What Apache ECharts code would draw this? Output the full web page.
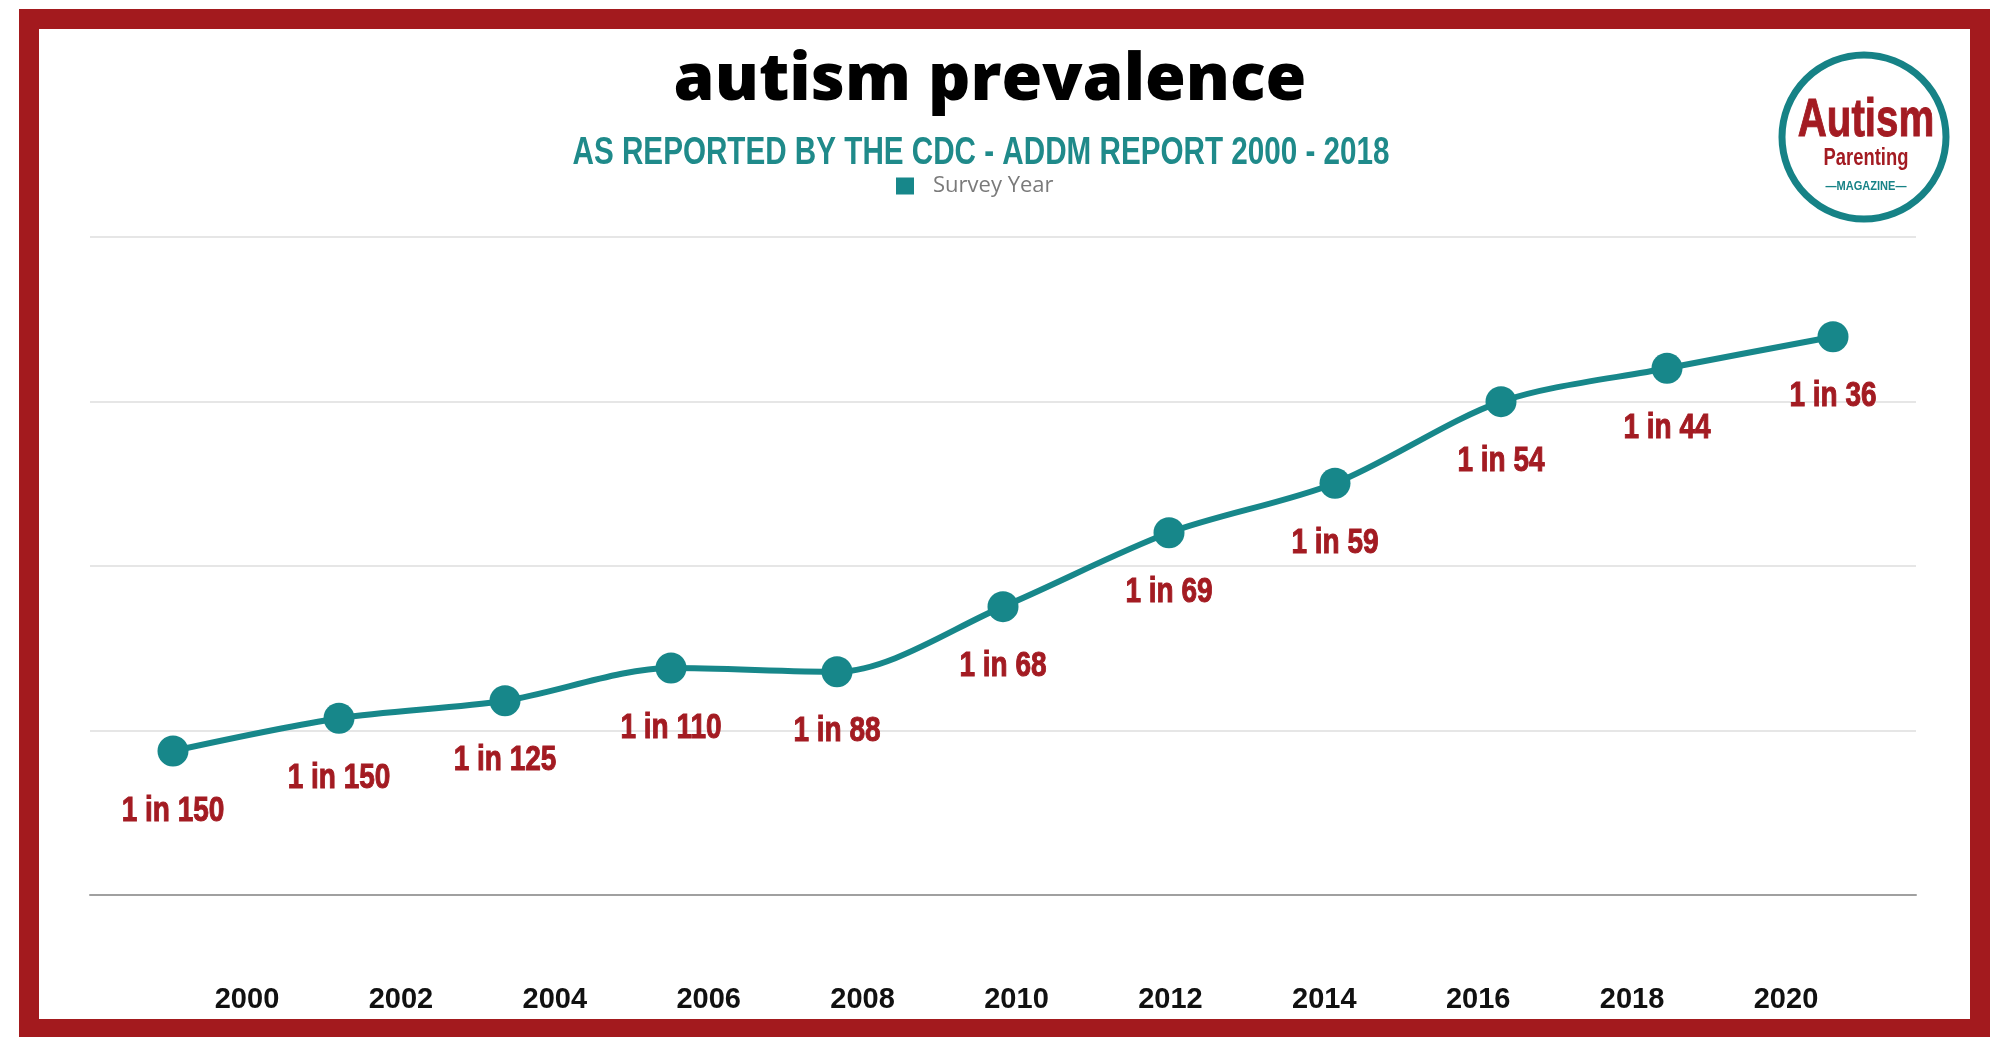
<!DOCTYPE html>
<html>
<head>
<meta charset="utf-8">
<script src="https://cdn.jsdelivr.net/npm/echarts@6/dist/echarts.min.js"></script>
<style>
html,body{margin:0;padding:0;background:#ffffff;}
#chart{width:1997px;height:1037px;}
</style>
</head>
<body>
<div id="chart"></div>
<script>
// ---- data ----
const years = ['2000','2002','2004','2006','2008','2010','2012','2014','2016','2018','2020'];
const prevalenceLevel = [8.75, 10.74, 11.81, 13.80, 13.57, 17.53, 22.02, 25.03, 29.99, 32.02, 33.94];
const prevalenceLabels = ['1 in 150','1 in 150','1 in 125','1 in 110','1 in 88','1 in 68','1 in 69','1 in 59','1 in 54','1 in 44','1 in 36'];
const yearTickLabels = ['2000','2002','2004','2006','2008','2010','2012','2014','2016','2018','2020'];
const seriesName = 'Survey Year';
const titleText = 'autism prevalence';
const subtitleText = 'AS REPORTED BY THE CDC - ADDM REPORT 2000 - 2018';

// ---- styles ----
const TEAL = '#17878a';
const RED = '#a31b22';
const FRAME_RED = '#a31a1e';
const CONDENSED = 'Liberation Sans';

const chart = echarts.init(document.getElementById('chart'), null, {renderer:'canvas'});
const option = {
  backgroundColor: '#ffffff',
  animation: false,
  legend: {
    data: [seriesName],
    left: 896,
    top: 175,
    padding: 0,
    icon: 'rect',
    itemWidth: 18,
    itemHeight: 17,
    textStyle: {fontFamily: 'Open Sans', fontSize: 22, color: '#7a7a7a', padding: [0,0,0,14]}
  },
  grid: [
    {left: 90, right: 81, top: 237, bottom: 142},
    {left: 247, right: 211, top: 237, bottom: 142}
  ],
  xAxis: [
    {
      type: 'category', gridIndex: 0, data: years, boundaryGap: true,
      axisLine: {show: true, onZero: true, lineStyle: {color: '#a0a0a0', width: 2}},
      axisTick: {show: false}, axisLabel: {show: false}, splitLine: {show: false}
    },
    {
      type: 'category', gridIndex: 1, data: yearTickLabels, boundaryGap: false,
      axisLine: {show: false}, axisTick: {show: false}, splitLine: {show: false},
      axisLabel: {show: true, margin: 90, fontFamily: 'Liberation Sans', fontWeight: 'bold', fontSize: 29, color: '#111111', interval: 0}
    }
  ],
  yAxis: [
    {
      type: 'value', gridIndex: 0, min: 0, max: 40, interval: 10,
      axisLine: {show: false}, axisTick: {show: false}, axisLabel: {show: false},
      splitLine: {show: true, lineStyle: {color: '#dedede', width: 1.5}}
    },
    {
      type: 'value', gridIndex: 1, min: 0, max: 40, interval: 10, show: false,
      splitLine: {show: false}
    }
  ],
  series: [
    {
      name: seriesName,
      type: 'line',
      xAxisIndex: 0, yAxisIndex: 0,
      data: prevalenceLevel,
      smooth: 0.3,
      symbol: 'circle',
      symbolSize: 31,
      lineStyle: {color: TEAL, width: 6},
      itemStyle: {color: TEAL},
      label: {show: false},
      z: 5
    },
    {
      name: 'labels',
      type: 'custom',
      xAxisIndex: 0, yAxisIndex: 0,
      data: prevalenceLevel.map((v, i) => [i, v]),
      z: 6,
      silent: true,
      renderItem: function (params, api) {
        const pt = api.coord([api.value(0), api.value(1)]);
        return {
          type: 'text',
          x: pt[0], y: pt[1] + 60,
          scaleX: 0.8,
          style: {
            text: prevalenceLabels[params.dataIndex],
            x: 0, y: 0,
            fontFamily: CONDENSED, fontWeight: 'bold', fontSize: 35,
            fill: RED, stroke: RED, lineWidth: 1,
            align: 'center', verticalAlign: 'middle'
          }
        };
      }
    }
  ],
  graphic: [
    {
      type: 'text', x: 990, y: 81, z: 10,
      style: {text: titleText, fontFamily: 'Open Sans', fontWeight: 800, fontSize: 66, fill: '#000000', align: 'center', verticalAlign: 'middle'}
    },
    {
      type: 'text', x: 981, y: 154, z: 10, scaleX: 0.78,
      style: {text: subtitleText, x: 0, y: 0, fontFamily: CONDENSED, fontWeight: 'bold', fontSize: 38, fill: '#1f8a8a', align: 'center', verticalAlign: 'middle'}
    },
    // logo
    {
      type: 'circle', z: 10,
      shape: {cx: 1864, cy: 137, r: 82},
      style: {fill: '#ffffff', stroke: '#168286', lineWidth: 7}
    },
    {
      type: 'text', x: 1866, y: 121, z: 11, scaleX: 0.76,
      style: {text: 'Autism', x: 0, y: 0, fontFamily: CONDENSED, fontWeight: 'bold', fontSize: 53, fill: RED, stroke: RED, lineWidth: 1, align: 'center', verticalAlign: 'middle'}
    },
    {
      type: 'text', x: 1866, y: 159, z: 11, scaleX: 0.8,
      style: {text: 'Parenting', x: 0, y: 0, fontFamily: CONDENSED, fontWeight: 'bold', fontSize: 23, fill: RED, align: 'center', verticalAlign: 'middle'}
    },
    {
      type: 'text', x: 1866, y: 186, z: 11, scaleX: 0.85,
      style: {text: '\u2014MAGAZINE\u2014', x: 0, y: 0, fontFamily: CONDENSED, fontWeight: 'bold', fontSize: 13, fill: '#168286', align: 'center', verticalAlign: 'middle'}
    },
    // frame
    {
      type: 'rect', z: 20,
      shape: {x: 29, y: 19, width: 1951, height: 1010},
      style: {fill: 'none', stroke: FRAME_RED, lineWidth: 20}
    }
  ]
};
chart.setOption(option);
</script>
</body>
</html>
